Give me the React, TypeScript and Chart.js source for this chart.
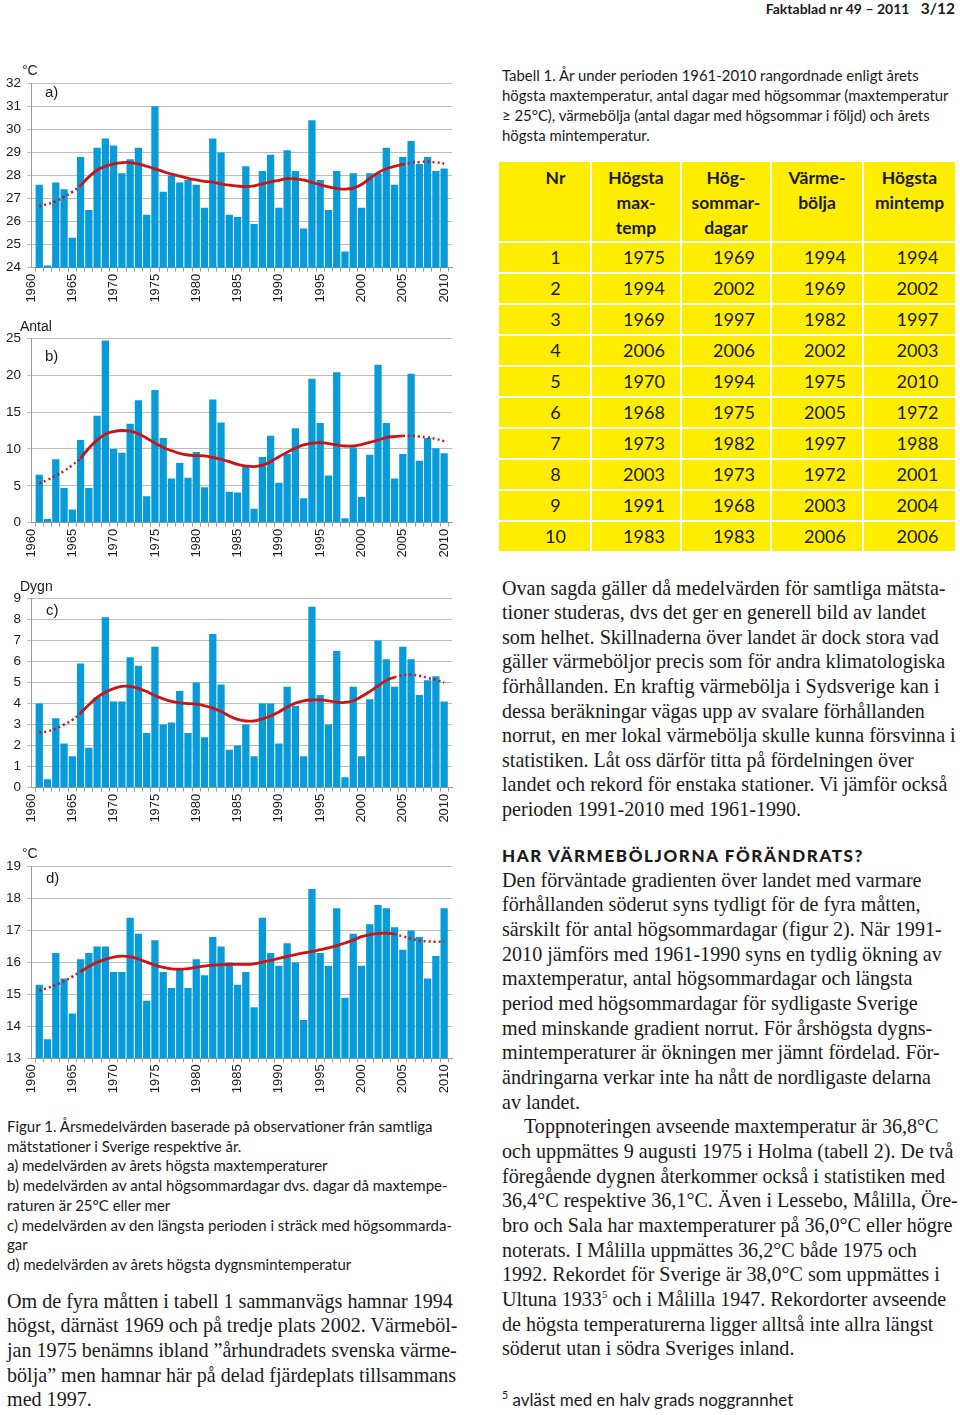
import React, { useEffect, useRef } from "react";
import { Chart, registerables } from "chart.js";
Chart.register(...registerables);

// ---------- DATA ----------
const yearLabels = [
  "1960", "1961", "1962", "1963", "1964", "1965", "1966", "1967", "1968", "1969",
  "1970", "1971", "1972", "1973", "1974", "1975", "1976", "1977", "1978", "1979",
  "1980", "1981", "1982", "1983", "1984", "1985", "1986", "1987", "1988", "1989",
  "1990", "1991", "1992", "1993", "1994", "1995", "1996", "1997", "1998", "1999",
  "2000", "2001", "2002", "2003", "2004", "2005", "2006", "2007", "2008", "2009",
  "2010", "2011",
];
const shownTicks = ["1960", "1965", "1970", "1975", "1980", "1985", "1990", "1995", "2000", "2005", "2010"];

// values for 1961..2010
const maxTemp = [
  27.6, 24.1, 27.7, 27.4, 25.3, 28.8, 26.5, 29.2, 29.6, 29.3,
  28.1, 28.7, 29.2, 26.3, 31.0, 27.3, 28.0, 27.7, 27.8, 27.6,
  26.6, 29.6, 29.0, 26.3, 26.2, 28.4, 25.9, 28.2, 28.9, 26.6,
  29.1, 28.2, 25.7, 30.4, 27.8, 26.5, 28.2, 24.7, 28.1, 26.6,
  28.1, 28.1, 29.2, 27.6, 28.8, 29.5, 28.5, 28.8, 28.2, 28.3,
];
const maxTempTrend = [
  26.67, 26.76, 26.88, 27.07, 27.29, 27.56, 27.94, 28.23, 28.4, 28.5,
  28.56, 28.56, 28.5, 28.4, 28.29, 28.17, 28.06, 27.97, 27.88, 27.81,
  27.75, 27.71, 27.64, 27.58, 27.54, 27.52, 27.55, 27.64, 27.72, 27.79,
  27.86, 27.85, 27.8, 27.7, 27.6, 27.51, 27.44, 27.41, 27.45, 27.61,
  27.87, 28.12, 28.29, 28.4, 28.48, 28.55, 28.58, 28.6, 28.57, 28.52,
];
const summerDays = [
  6.5, 0.5, 8.6, 4.7, 1.8, 11.2, 4.7, 14.5, 24.7, 10.0,
  9.5, 13.4, 16.6, 3.6, 18.0, 11.5, 6.0, 8.1, 6.1, 9.6,
  4.8, 16.7, 13.6, 4.2, 4.1, 7.6, 1.9, 8.9, 11.8, 5.4,
  9.3, 12.8, 3.3, 19.5, 13.5, 6.4, 20.4, 0.6, 10.2, 3.5,
  9.2, 21.4, 13.5, 6.0, 9.3, 20.2, 8.4, 11.5, 10.1, 9.4,
];
const summerDaysTrend = [
  5.3, 5.8, 6.36, 7.0, 7.8, 8.7, 10.1, 11.2, 12.0, 12.36,
  12.5, 12.4, 12.05, 11.45, 10.8, 10.2, 9.77, 9.4, 9.18, 9.09,
  9.05, 8.86, 8.6, 8.27, 7.9, 7.68, 7.6, 7.8, 8.27, 8.95,
  9.55, 10.1, 10.55, 10.77, 10.86, 10.73, 10.55, 10.4, 10.4, 10.6,
  10.9, 11.2, 11.55, 11.68, 11.77, 11.77, 11.68, 11.55, 11.36, 11.05,
];
const heatWave = [
  4.0, 0.4, 3.3, 2.1, 1.5, 5.9, 1.9, 4.3, 8.1, 4.1,
  4.1, 6.2, 5.8, 2.6, 6.7, 3.0, 3.1, 4.6, 2.6, 5.0,
  2.4, 7.3, 4.9, 1.8, 2.0, 3.0, 1.5, 4.0, 4.0, 2.1,
  4.8, 3.9, 1.5, 8.6, 4.4, 3.0, 6.5, 0.5, 4.8, 1.5,
  4.2, 7.0, 6.1, 4.8, 6.7, 6.1, 4.4, 5.1, 5.3, 4.1,
];
const heatWaveTrend = [
  2.62, 2.68, 2.81, 3.0, 3.22, 3.54, 3.94, 4.29, 4.54, 4.71,
  4.81, 4.81, 4.71, 4.57, 4.38, 4.22, 4.1, 4.03, 4.0, 3.97,
  3.89, 3.78, 3.62, 3.41, 3.25, 3.17, 3.17, 3.27, 3.41, 3.6,
  3.83, 4.02, 4.13, 4.17, 4.17, 4.13, 4.06, 4.05, 4.13, 4.33,
  4.57, 4.84, 5.1, 5.25, 5.35, 5.37, 5.32, 5.22, 5.13, 5.0,
];
const minTemp = [
  15.3, 13.6, 16.3, 15.5, 14.4, 16.1, 16.3, 16.5, 16.5, 15.7,
  15.7, 17.4, 16.9, 14.8, 16.7, 15.7, 15.2, 15.8, 15.2, 16.1,
  15.6, 16.8, 16.5, 16.0, 15.3, 15.7, 14.6, 17.4, 16.3, 15.9,
  16.6, 16.0, 14.2, 18.3, 16.3, 15.9, 17.7, 14.9, 16.9, 15.9,
  17.2, 17.8, 17.7, 17.1, 16.4, 17.0, 16.8, 15.5, 16.2, 17.7,
];
const minTempTrend = [
  15.12, 15.2, 15.3, 15.42, 15.56, 15.72, 15.87, 16.01, 16.1, 16.17,
  16.2, 16.18, 16.11, 16.01, 15.92, 15.85, 15.8, 15.79, 15.81, 15.85,
  15.89, 15.92, 15.93, 15.94, 15.94, 15.94, 15.96, 16.01, 16.07, 16.13,
  16.19, 16.25, 16.3, 16.34, 16.4, 16.46, 16.53, 16.61, 16.7, 16.81,
  16.87, 16.91, 16.92, 16.89, 16.82, 16.75, 16.68, 16.66, 16.65, 16.65,
];

const tableHead = [["Nr"], ["Högsta", "max-", "temp"], ["Hög-", "sommar-", "dagar"], ["Värme-", "bölja"], ["Högsta", "mintemp"]];
const rankNr = ["1", "2", "3", "4", "5", "6", "7", "8", "9", "10"];
const rankMaxTemp = ["1975", "1994", "1969", "2006", "1970", "1968", "1973", "2003", "1991", "1983"];
const rankSummerDays = ["1969", "2002", "1997", "2006", "1994", "1975", "1982", "1973", "1968", "1983"];
const rankHeatWave = ["1994", "1969", "1982", "2002", "1975", "2005", "1997", "1972", "2003", "2006"];
const rankMinTemp = ["1994", "2002", "1997", "2003", "2010", "1972", "1988", "2001", "2004", "2006"];

// ---------- STYLE ----------
const BLUE = "#079bd9";
const RED = "#cc1414";
const AXIS_FONT = "'Liberation Sans', Arial, sans-serif";
const SANS = "Lato, 'Noto Sans', sans-serif";
const SERIF = "'Liberation Serif', 'DejaVu Serif', serif";

type PanelProps = {
  top: number;
  height: number;
  plotTop: number;
  plotBottom: number;
  values: number[];
  trend: number[];
  solidFrom: string;
  solidTo: string;
  min: number;
  max: number;
  step: number;
};

function Panel(p: PanelProps) {
  const ref = useRef<HTMLCanvasElement>(null);
  useEffect(() => {
    const first = yearLabels.indexOf("1961");
    const last = yearLabels.indexOf("2010");
    const sFrom = yearLabels.indexOf(p.solidFrom);
    const sTo = yearLabels.indexOf(p.solidTo);
    const bars = yearLabels.map((_, i) => (i >= first && i <= last ? p.values[i - first] : null));
    const solid = yearLabels.map((_, i) => (i >= sFrom && i <= sTo ? p.trend[i - first] : null));
    const dotted = yearLabels.map((_, i) =>
      (i >= first && i <= sFrom) || (i >= sTo && i <= last) ? p.trend[i - first] : null
    );
    const chart = new Chart(ref.current as HTMLCanvasElement, {
      type: "bar",
      data: {
        labels: yearLabels,
        datasets: [
          { type: "line", data: solid, borderColor: RED, borderWidth: 2.8, pointRadius: 0, tension: 0.4, spanGaps: false, order: 0 } as any,
          { type: "line", data: dotted, borderColor: RED, borderWidth: 2.5, borderDash: [2, 3], pointRadius: 0, tension: 0.4, spanGaps: false, order: 0 } as any,
          { type: "bar", data: bars, backgroundColor: BLUE, barPercentage: 0.88, categoryPercentage: 1, order: 1 } as any,
        ],
      },
      options: {
        animation: false,
        responsive: false,
        devicePixelRatio: 1,
        layout: { padding: { top: p.plotTop - p.top, right: 10, left: 0, bottom: 0 } },
        plugins: { legend: { display: false }, tooltip: { enabled: false } },
        scales: {
          x: {
            offset: false,
            grid: { display: true, drawOnChartArea: false, offset: true, tickLength: 4, color: "#9a9a9a" },
            border: { color: "#9a9a9a" },
            ticks: {
              autoSkip: false,
              maxRotation: 90,
              minRotation: 90,
              padding: 2,
              color: "#1a1a1a",
              font: { family: AXIS_FONT, size: 13 },
              callback: (_v: any, i: number) => (shownTicks.includes(yearLabels[i]) ? yearLabels[i] : ""),
            },
            afterFit: (s: any) => {
              s.height = p.top + p.height - p.plotBottom;
            },
          } as any,
          y: {
            min: p.min,
            max: p.max,
            ticks: { stepSize: p.step, padding: 6, color: "#1a1a1a", font: { family: AXIS_FONT, size: 13.5 } },
            grid: { color: "#bcbcbc", tickLength: 4 },
            border: { color: "#9a9a9a" },
            afterFit: (s: any) => {
              s.width = 31;
            },
          } as any,
        },
      },
    });
    return () => chart.destroy();
  }, []);
  return (
    <canvas
      ref={ref}
      width={470}
      height={p.height}
      style={{ position: "absolute", left: 0, top: p.top, width: 470, height: p.height }}
    />
  );
}

function Label({ x, y, text, size = 14 }: { x: number; y: number; text: string; size?: number }) {
  return (
    <div
      style={{
        position: "absolute",
        left: x,
        top: y,
        fontFamily: AXIS_FONT,
        fontSize: size,
        lineHeight: "16px",
        color: "#1a1a1a",
        whiteSpace: "nowrap",
      }}
    >
      {text}
    </div>
  );
}

function Lines({
  x, y, lh, size, family, lines, width,
}: { x: number; y: number; lh: number; size: number; family: string; lines: React.ReactNode[]; width?: number }) {
  return (
    <div
      style={{
        position: "absolute",
        left: x,
        top: y,
        width: width,
        fontFamily: family,
        fontSize: size,
        lineHeight: lh + "px",
        color: "#1a1a1a",
        whiteSpace: "nowrap",
      }}
    >
      {lines.map((l, i) => (
        <div key={i}>{l}</div>
      ))}
    </div>
  );
}

function RankTable() {
  const colX = [499, 592, 682, 772, 864];
  const colW = [91, 88, 88, 90, 91];
  const cols = [rankNr, rankMaxTemp, rankSummerDays, rankHeatWave, rankMinTemp];
  const cells: React.ReactNode[] = [];
  tableHead.forEach((h, c) => {
    cells.push(
      <div
        key={"h" + c}
        style={{
          position: "absolute",
          left: colX[c],
          top: 162,
          width: colW[c],
          height: 79,
          background: "#ffed00",
          boxSizing: "border-box",
          paddingTop: 3,
          paddingLeft: c === 0 ? 22 : 0,
          textAlign: "center",
          fontFamily: SANS,
          fontWeight: 700,
          fontSize: 17.5,
          lineHeight: "25px",
          color: "#1a1a1a",
        }}
      >
        {h.map((t, i) => (
          <div key={i}>{t}</div>
        ))}
      </div>
    );
  });
  for (let r = 0; r < rankNr.length; r++) {
    cols.forEach((col, c) => {
      cells.push(
        <div
          key={r + "-" + c}
          style={{
            position: "absolute",
            left: colX[c],
            top: 243 + r * 31,
            width: colW[c],
            height: 29,
            background: "#ffed00",
            boxSizing: "border-box",
            paddingLeft: c === 0 ? 22 : 16,
            textAlign: "center",
            fontFamily: SANS,
            fontSize: 18,
            lineHeight: "29px",
            color: "#1a1a1a",
          }}
        >
          {col[r]}
        </div>
      );
    });
  }
  return <>{cells}</>;
}

export default function App() {
  return (
    <div
      style={{
        position: "absolute",
        left: 0,
        top: 0,
        width: 960,
        height: 1415,
        background: "#ffffff",
        overflow: "hidden",
      }}
    >
      {/* header */}
      <div
        style={{
          position: "absolute",
          right: 5,
          top: 0,
          fontFamily: SANS,
          fontWeight: 700,
          fontSize: 14,
          lineHeight: "17px",
          color: "#1a1a1a",
          whiteSpace: "nowrap",
        }}
      >
        Faktablad nr 49 – 2011 <span style={{ fontSize: 15.5, marginLeft: 8 }}>3/12</span>
      </div>

      {/* charts */}
      <Panel top={60} height={252} plotTop={83.3} plotBottom={267.7} values={maxTemp} trend={maxTempTrend}
        solidFrom="1966" solidTo="2005" min={24} max={32} step={1} />
      <Label x={22} y={62} text="°C" />
      <Label x={45} y={84} text="a)" size={15} />

      <Panel top={315} height={250} plotTop={338.3} plotBottom={522.7} values={summerDays} trend={summerDaysTrend}
        solidFrom="1966" solidTo="2005" min={0} max={25} step={5} />
      <Label x={20} y={318} text="Antal" />
      <Label x={45} y={348} text="b)" size={15} />

      <Panel top={575} height={255} plotTop={598.3} plotBottom={787.7} values={heatWave} trend={heatWaveTrend}
        solidFrom="1966" solidTo="2004" min={0} max={9} step={1} />
      <Label x={20} y={578} text="Dygn" />
      <Label x={46} y={602} text="c)" size={15} />

      <Panel top={840} height={262} plotTop={866.7} plotBottom={1058.3} values={minTemp} trend={minTempTrend}
        solidFrom="1966" solidTo="2004" min={13} max={19} step={1} />
      <Label x={22} y={845} text="°C" />
      <Label x={46} y={870} text="d)" size={15} />

      {/* table caption */}
      <Lines x={502} y={65} lh={20} size={14.9} family={SANS} lines={[
        "Tabell 1. År under perioden 1961-2010 rangordnade enligt årets",
        "högsta maxtemperatur, antal dagar med högsommar (maxtemperatur",
        "≥ 25°C), värmebölja (antal dagar med högsommar i följd) och årets",
        "högsta mintemperatur.",
      ]} />

      <RankTable />

      {/* right text block 1 */}
      <Lines x={502} y={575.7} lh={24.6} size={20.1} family={SERIF} lines={[
        "Ovan sagda gäller då medelvärden för samtliga mätsta-",
        "tioner studeras, dvs det ger en generell bild av landet",
        "som helhet. Skillnaderna över landet är dock stora vad",
        "gäller värmeböljor precis som för andra klimatologiska",
        "förhållanden. En kraftig värmebölja i Sydsverige kan i",
        "dessa beräkningar vägas upp av svalare förhållanden",
        "norrut, en mer lokal värmebölja skulle kunna försvinna i",
        "statistiken. Låt oss därför titta på fördelningen över",
        "landet och rekord för enstaka stationer. Vi jämför också",
        "perioden 1991-2010 med 1961-1990.",
      ]} />

      {/* heading */}
      <div
        style={{
          position: "absolute",
          left: 502,
          top: 846,
          fontFamily: SANS,
          fontWeight: 900,
          fontSize: 17,
          letterSpacing: 1.6,
          lineHeight: "20px",
          color: "#1a1a1a",
          whiteSpace: "nowrap",
        }}
      >
        HAR VÄRMEBÖLJORNA FÖRÄNDRATS?
      </div>

      <Lines x={502} y={867.7} lh={24.65} size={20.1} family={SERIF} lines={[
        "Den förväntade gradienten över landet med varmare",
        "förhållanden söderut syns tydligt för de fyra måtten,",
        "särskilt för antal högsommardagar (figur 2). När 1991-",
        "2010 jämförs med 1961-1990 syns en tydlig ökning av",
        "maxtemperatur, antal högsommardagar och längsta",
        "period med högsommardagar för sydligaste Sverige",
        "med minskande gradient norrut. För årshögsta dygns-",
        "mintemperaturer är ökningen mer jämnt fördelad. För-",
        "ändringarna verkar inte ha nått de nordligaste delarna",
        "av landet.",
        <span style={{ paddingLeft: 22 }}>Toppnoteringen avseende maxtemperatur är 36,8°C</span>,
        "och uppmättes 9 augusti 1975 i Holma (tabell 2).  De två",
        "föregående dygnen återkommer också i statistiken med",
        "36,4°C respektive 36,1°C. Även i Lessebo, Målilla, Öre-",
        "bro och Sala har maxtemperaturer på 36,0°C eller högre",
        "noterats. I Målilla uppmättes 36,2°C både 1975 och",
        "1992. Rekordet för Sverige är 38,0°C som uppmättes i",
        <span>
          Ultuna 1933<sup style={{ fontSize: 11, lineHeight: 0 }}>5</sup> och i Målilla 1947. Rekordorter avseende
        </span>,
        "de högsta temperaturerna ligger alltså inte allra längst",
        "söderut utan i södra Sveriges inland.",
      ]} />

      {/* footnote */}
      <div
        style={{
          position: "absolute",
          left: 502,
          top: 1390,
          fontFamily: SANS,
          fontSize: 17,
          lineHeight: "20px",
          color: "#1a1a1a",
          whiteSpace: "nowrap",
        }}
      >
        <sup style={{ fontSize: 10.5, lineHeight: 0 }}>5</sup> avläst med en halv grads noggrannhet
      </div>

      {/* figure caption */}
      <Lines x={7} y={1117} lh={19.7} size={15} family={SANS} lines={[
        "Figur 1. Årsmedelvärden baserade på observationer  från samtliga",
        "mätstationer i Sverige respektive år.",
        "a) medelvärden av årets högsta maxtemperaturer",
        "b) medelvärden av antal högsommardagar dvs. dagar då maxtempe-",
        "raturen är 25°C eller mer",
        "c) medelvärden av den längsta perioden i sträck med högsommarda-",
        "gar",
        "d) medelvärden av årets högsta dygnsmintemperatur",
      ]} />

      {/* left bottom text */}
      <Lines x={7} y={1288.6} lh={24.7} size={20.1} family={SERIF} lines={[
        "Om de fyra måtten i tabell 1 sammanvägs hamnar 1994",
        "högst, därnäst 1969 och på tredje plats 2002. Värmeböl-",
        "jan 1975 benämns ibland ”århundradets svenska värme-",
        "bölja” men hamnar här på delad fjärdeplats tillsammans",
        "med 1997.",
      ]} />
    </div>
  );
}
